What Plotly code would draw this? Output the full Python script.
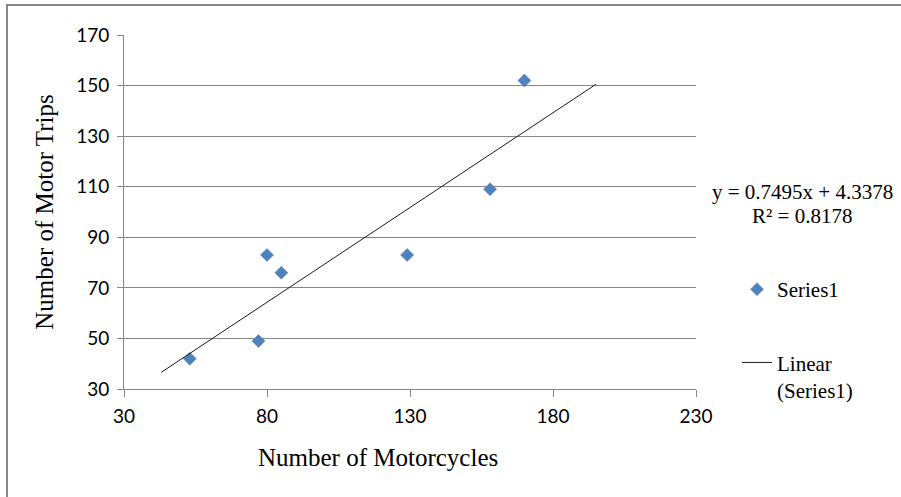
import numpy as np
import plotly.graph_objects as go

# Data
motorcycles = [53, 77, 80, 85, 129, 158, 170]
motor_trips = [42, 49, 83, 76, 83, 109, 152]
x_ticks = [30, 80, 130, 180, 230]
y_ticks = [30, 50, 70, 90, 110, 130, 150, 170]
series_name = "Series1"
trend_name = "Linear<br>(Series1)"
equation_text = "y = 0.7495x + 4.3378"
r2_text = "R² = 0.8178"
x_title = "Number of Motorcycles"
y_title = "Number of Motor Trips"
trend_backward = 10
trend_forward = 25

slope, intercept = np.polyfit(motorcycles, motor_trips, 1)
tx = np.array([min(motorcycles) - trend_backward, max(motorcycles) + trend_forward])
ty = slope * tx + intercept

grid = "#868686"
serif = "Liberation Serif, Times New Roman, serif"
sans = "Lato, Open Sans, sans-serif"

L, R, T, B = 124, 696, 35, 389  # plot area in pixels
W, H = 901, 497


def px(xp):
    return (xp - L) / (R - L)


def py(yp):
    return (B - yp) / (B - T)


fig = go.Figure()
fig.add_trace(go.Scatter(
    x=motorcycles, y=motor_trips, mode="markers", name=series_name,
    marker=dict(symbol="diamond", size=10, color="#4F81BD",
                line=dict(width=0.5, color="#4A7EBB")),
    legendgroup="a",
))
fig.add_trace(go.Scatter(
    x=tx, y=ty, mode="lines", name=trend_name,
    line=dict(color="#1a1a1a", width=1),
    legendgroup="b",
))

fig.update_layout(
    width=W, height=H,
    margin=dict(l=L, r=W - R, t=T, b=H - B),
    paper_bgcolor="white", plot_bgcolor="white",
    showlegend=True,
    legend=dict(
        x=px(737), xanchor="left",
        y=py(269), yanchor="top",
        font=dict(family=serif, size=21, color="black"),
        tracegroupgap=43, valign="top",
        bgcolor="rgba(0,0,0,0)",
    ),
    xaxis=dict(
        range=[30, 230], tickvals=x_ticks, showgrid=False,
        showline=True, linecolor=grid, linewidth=1,
        ticks="outside", ticklen=7, tickcolor=grid,
        tickfont=dict(family=sans, size=19, color="black"),
        ticklabelstandoff=3,
        zeroline=False,
    ),
    yaxis=dict(
        range=[30, 170], tickvals=y_ticks, showgrid=True,
        gridcolor=grid, gridwidth=1,
        showline=True, linecolor=grid, linewidth=1,
        ticks="outside", ticklen=6, tickcolor=grid,
        tickfont=dict(family=sans, size=19, color="black"),
        ticklabelstandoff=4,
        zeroline=False,
        title=dict(text=y_title,
                   font=dict(family=serif, size=25, color="black"),
                   standoff=15),
    ),
    annotations=[
        dict(text=x_title, xref="paper", yref="paper",
             x=px(378), y=py(457), xanchor="center", yanchor="middle",
             showarrow=False,
             font=dict(family=serif, size=25, color="black")),
        dict(text=equation_text, xref="paper", yref="paper",
             x=px(802), y=py(192),
             xanchor="center", yanchor="middle", showarrow=False,
             font=dict(family=serif, size=21, color="black")),
        dict(text=r2_text, xref="paper", yref="paper",
             x=px(802), y=py(216),
             xanchor="center", yanchor="middle", showarrow=False,
             font=dict(family=serif, size=21, color="black")),
    ],
    shapes=[
        dict(type="rect", xref="paper", yref="paper",
             x0=px(7), x1=px(920), y0=py(520), y1=py(5),
             line=dict(color="#878787", width=2), fillcolor="rgba(0,0,0,0)",
             layer="below"),
    ],
)

fig.write_html("out.html", config={"displayModeBar": False},
               post_script="document.body.style.margin='0';")
